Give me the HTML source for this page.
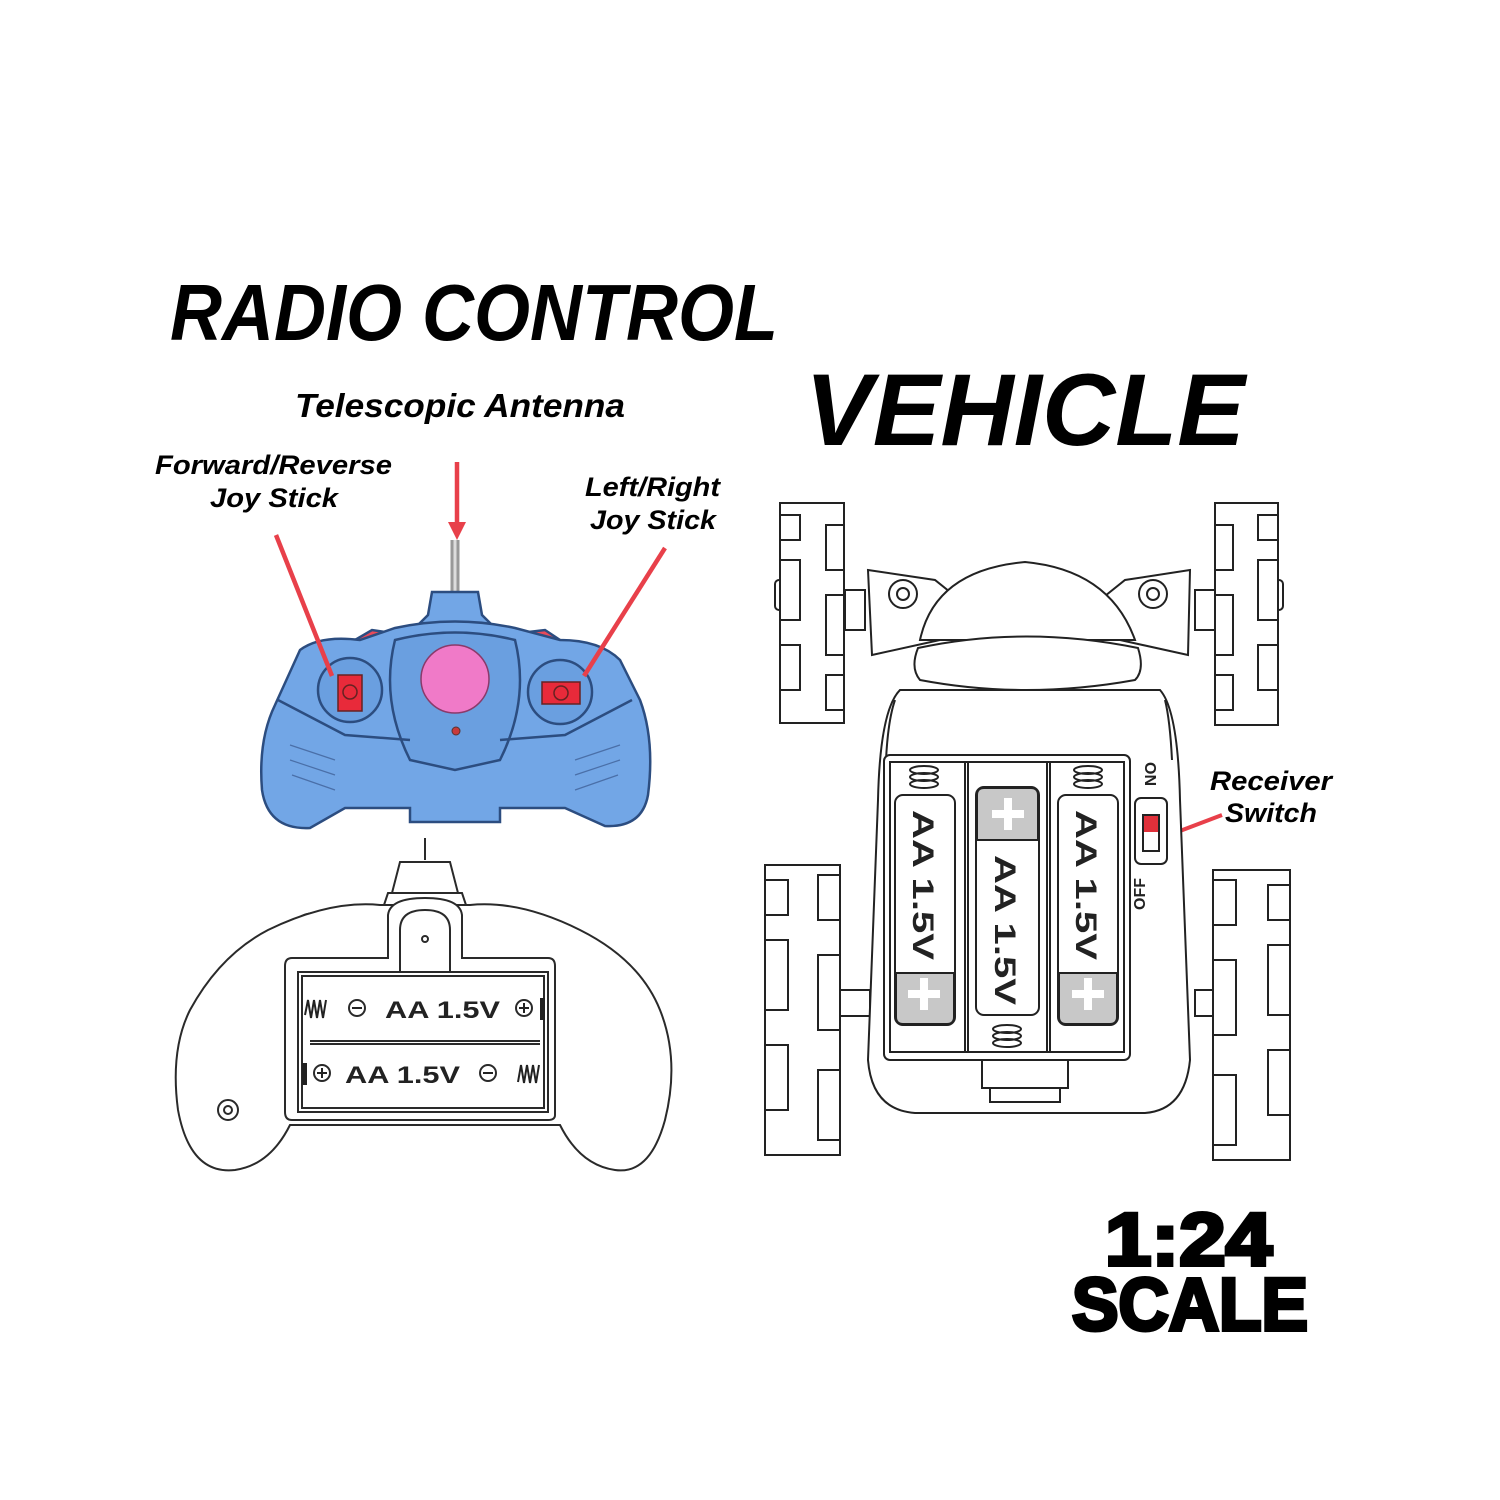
<!DOCTYPE html>
<html><head><meta charset="utf-8"><style>
html,body{margin:0;padding:0;background:#fff;}
svg{display:block}
text{font-family:"Liberation Sans",sans-serif;}
</style></head><body>
<svg width="1500" height="1500" viewBox="0 0 1500 1500" xmlns="http://www.w3.org/2000/svg">
<rect width="1500" height="1500" fill="#fff"/>
<text x="170" y="340" font-size="80" font-weight="bold" font-style="italic" textLength="608" lengthAdjust="spacingAndGlyphs" fill="#000">RADIO CONTROL</text>
<text x="805" y="445" font-size="102" font-weight="bold" font-style="italic" textLength="440" lengthAdjust="spacingAndGlyphs" fill="#000">VEHICLE</text>
<text x="295" y="417" font-size="33" font-weight="bold" font-style="italic" textLength="330" lengthAdjust="spacingAndGlyphs">Telescopic Antenna</text>
<text x="155" y="474" font-size="27" font-weight="bold" font-style="italic" textLength="237" lengthAdjust="spacingAndGlyphs">Forward/Reverse</text>
<text x="210" y="507" font-size="27" font-weight="bold" font-style="italic" textLength="128" lengthAdjust="spacingAndGlyphs">Joy Stick</text>
<text x="585" y="496" font-size="27" font-weight="bold" font-style="italic" textLength="135" lengthAdjust="spacingAndGlyphs">Left/Right</text>
<text x="590" y="529" font-size="27" font-weight="bold" font-style="italic" textLength="126" lengthAdjust="spacingAndGlyphs">Joy Stick</text>
<text x="1210" y="790" font-size="27" font-weight="bold" font-style="italic" textLength="122" lengthAdjust="spacingAndGlyphs">Receiver</text>
<text x="1225" y="822" font-size="27" font-weight="bold" font-style="italic" textLength="92" lengthAdjust="spacingAndGlyphs">Switch</text>
<text x="1105" y="1265" font-size="74" font-weight="bold" stroke="#000" stroke-width="4" textLength="167" lengthAdjust="spacingAndGlyphs">1:24</text>
<text x="1072" y="1330" font-size="74" font-weight="bold" stroke="#000" stroke-width="4" textLength="236" lengthAdjust="spacingAndGlyphs">SCALE</text>

<line x1="455" y1="540" x2="455" y2="595" stroke="#999" stroke-width="9"/>
<line x1="455" y1="540" x2="455" y2="595" stroke="#ddd" stroke-width="3"/>
<g stroke="#2c4d80" stroke-width="2.5" fill="#72a6e6">
<path d="M355 640 L372 630 L392 633 L385 648Z M520 633 L545 630 L560 640 L530 648Z" fill="#e84a5a"/>
<path d="M432 592 L478 592 L482 615 L492 625 L418 625 L428 615Z"/>
<path d="M300 650 Q320 635 360 640 L395 628 Q455 615 515 628 L560 640 Q600 640 620 660 L640 700 Q655 740 648 795 Q642 828 605 826 L565 808 L500 808 L500 822 L410 822 L410 808 L345 808 L310 828 Q268 830 262 790 Q258 740 275 705 Z"/>
<path d="M395 640 Q455 625 515 640 Q530 700 500 760 L455 770 L410 760 Q380 700 395 640Z" fill="#6a9fe0"/>
<circle cx="350" cy="690" r="32" fill="#6a9fe0"/>
<circle cx="560" cy="692" r="32" fill="#6a9fe0"/>
<path d="M278 700 L345 735 L410 740 M632 700 L565 735 L500 740" fill="none"/>
</g>
<circle cx="455" cy="679" r="34" fill="#f07ac8" stroke="#8a3a6a" stroke-width="1.5"/>
<circle cx="456" cy="731" r="4" fill="#c83a3a" stroke="#533" stroke-width="1"/>
<rect x="338" y="675" width="24" height="36" fill="#e82a3a" stroke="#622" stroke-width="1.5"/>
<rect x="542" y="682" width="38" height="22" fill="#e82a3a" stroke="#622" stroke-width="1.5"/>
<circle cx="350" cy="692" r="7" fill="none" stroke="#622" stroke-width="1.5"/>
<circle cx="561" cy="693" r="7" fill="none" stroke="#622" stroke-width="1.5"/>
<g stroke="#4a6fa8" stroke-width="1.2">
<line x1="290" y1="745" x2="335" y2="760"/><line x1="290" y1="760" x2="335" y2="775"/><line x1="292" y1="775" x2="335" y2="790"/>
<line x1="620" y1="745" x2="575" y2="760"/><line x1="620" y1="760" x2="575" y2="775"/><line x1="618" y1="775" x2="575" y2="790"/>
</g>
<g stroke="#e8404a" stroke-width="4.5" fill="#e8404a">
<line x1="276" y1="535" x2="332" y2="676"/>
<line x1="665" y1="548" x2="584" y2="676"/>
<line x1="457" y1="462" x2="457" y2="525"/>
<path d="M448 522 L466 522 L457 540Z" stroke="none"/>
<line x1="1172" y1="834" x2="1222" y2="815" stroke-width="4"/>
</g>

<g stroke="#2a2a2a" stroke-width="2" fill="#fff">
<line x1="425" y1="838" x2="425" y2="860"/>
<path d="M400 862 L450 862 L458 893 L392 893Z"/>
<path d="M388 893 L462 893 L466 905 L384 905Z"/>
<path d="M292 925 Q300 910 330 913 L345 918 M505 918 Q540 908 555 925"/>
<path d="M268 930 Q330 900 380 905 L470 905 Q520 900 580 930 Q640 960 660 1010 Q680 1060 665 1120 Q650 1175 615 1170 Q580 1165 560 1125 L290 1125 Q270 1165 235 1170 Q190 1175 178 1110 Q170 1050 190 1010 Q220 955 268 930Z"/>
<path d="M388 958 L388 915 Q390 898 425 898 Q460 898 462 915 L462 958 L548 958 Q555 958 555 966 L555 1115 Q555 1120 548 1120 L292 1120 Q285 1120 285 1112 L285 966 Q285 958 292 958Z"/>
<path d="M400 975 L400 930 Q400 910 425 910 Q450 910 450 930 L450 975"/>
<rect x="298" y="972" width="250" height="140"/>
<rect x="302" y="976" width="242" height="132"/>
<line x1="310" y1="1041" x2="540" y2="1041"/>
<line x1="310" y1="1044" x2="540" y2="1044"/>
<circle cx="425" cy="939" r="3"/>
<circle cx="228" cy="1110" r="10"/><circle cx="228" cy="1110" r="4"/>
<circle cx="357" cy="1008" r="8"/><circle cx="524" cy="1008" r="8"/>
<circle cx="322" cy="1073" r="8"/><circle cx="488" cy="1073" r="8"/>
</g>
<g stroke="#222" stroke-width="2">
<line x1="352" y1="1008" x2="362" y2="1008"/><line x1="519" y1="1008" x2="529" y2="1008"/><line x1="524" y1="1003" x2="524" y2="1013"/>
<line x1="317" y1="1073" x2="327" y2="1073"/><line x1="322" y1="1068" x2="322" y2="1078"/><line x1="483" y1="1073" x2="493" y2="1073"/>
<path d="M305 1015 L308 1000 L311 1018 L314 1000 L317 1018 L320 1000 L323 1018 L326 1000" fill="none"/>
<path d="M518 1082 L521 1065 L524 1083 L527 1065 L530 1083 L533 1065 L536 1083 L539 1065" fill="none"/>
</g>
<rect x="540" y="998" width="5" height="22" fill="#222"/>
<rect x="302" y="1063" width="5" height="22" fill="#222"/>
<text x="385" y="1018" font-size="24" font-weight="bold" fill="#222" textLength="115" lengthAdjust="spacingAndGlyphs">AA 1.5V</text>
<text x="345" y="1083" font-size="24" font-weight="bold" fill="#222" textLength="115" lengthAdjust="spacingAndGlyphs">AA 1.5V</text>

<g stroke="#222" stroke-width="2" fill="#fff">
<rect x="845" y="590" width="20" height="40"/><rect x="1195" y="590" width="22" height="40"/>
<rect x="840" y="990" width="30" height="26"/><rect x="1195" y="990" width="22" height="26"/>
<rect x="775" y="580" width="8" height="30" rx="4"/><rect x="1275" y="580" width="8" height="30" rx="4"/>
<path d="M868 570 L935 580 L960 600 L940 640 L872 655Z"/>
<path d="M1190 570 L1125 580 L1100 600 L1120 640 L1188 655Z"/>
<path d="M920 640 Q935 570 1025 562 Q1110 570 1135 640Z"/>
<path d="M900 690 Q880 710 878 800 L868 1060 Q872 1110 915 1113 L1145 1113 Q1185 1110 1190 1060 L1180 800 Q1178 710 1160 690 Z"/>
<path d="M918 648 Q1025 625 1138 648 Q1145 670 1135 680 Q1025 700 920 680 Q910 668 918 648Z"/>
<path d="M895 700 Q888 720 886 760 M1165 700 Q1170 720 1172 760" fill="none"/>
<circle cx="903" cy="594" r="14"/><circle cx="903" cy="594" r="6"/>
<circle cx="1153" cy="594" r="14"/><circle cx="1153" cy="594" r="6"/>
<rect x="982" y="1058" width="86" height="30"/><rect x="990" y="1088" width="70" height="14"/>
<rect x="884" y="755" width="246" height="305" rx="6"/>
<rect x="890" y="762" width="234" height="290"/>
<line x1="965" y1="762" x2="965" y2="1052"/><line x1="968" y1="762" x2="968" y2="1052"/>
<line x1="1047" y1="762" x2="1047" y2="1052"/><line x1="1050" y1="762" x2="1050" y2="1052"/>
<rect x="1135" y="798" width="32" height="66" rx="6"/>
<rect x="1143" y="815" width="16" height="36"/>
</g>
<rect x="1144" y="816" width="14" height="16" fill="#e0303a"/>
<text transform="translate(1145,762) rotate(90)" font-size="16" font-weight="bold" fill="#222">ON</text>
<text transform="translate(1145,910) rotate(-90)" font-size="16" font-weight="bold" fill="#222">OFF</text>
<g fill="none" stroke="#222" stroke-width="2">
<ellipse cx="924" cy="770" rx="14" ry="4"/><ellipse cx="924" cy="777" rx="14" ry="4"/><ellipse cx="924" cy="784" rx="14" ry="4"/>
<ellipse cx="1088" cy="770" rx="14" ry="4"/><ellipse cx="1088" cy="777" rx="14" ry="4"/><ellipse cx="1088" cy="784" rx="14" ry="4"/>
<ellipse cx="1007" cy="1029" rx="14" ry="4"/><ellipse cx="1007" cy="1036" rx="14" ry="4"/><ellipse cx="1007" cy="1043" rx="14" ry="4"/>
</g>
<g stroke="#222" stroke-width="2">
<rect x="895" y="795" width="60" height="230" rx="8" fill="#fff"/>
<path d="M896 973 L954 973 L954 1017 Q954 1024 947 1024 L903 1024 Q896 1024 896 1017Z" fill="#c8c8c8"/>
<rect x="976" y="787" width="63" height="228" rx="8" fill="#fff"/>
<path d="M977 840 L1038 840 L1038 795 Q1038 788 1031 788 L984 788 Q977 788 977 795Z" fill="#c8c8c8"/>
<rect x="1058" y="795" width="60" height="230" rx="8" fill="#fff"/>
<path d="M1059 973 L1117 973 L1117 1017 Q1117 1024 1110 1024 L1066 1024 Q1059 1024 1059 1017Z" fill="#c8c8c8"/>
</g>
<g fill="#fff">
<rect x="920" y="978" width="8" height="32"/><rect x="908" y="990" width="32" height="8"/>
<rect x="1004" y="798" width="8" height="32"/><rect x="992" y="810" width="32" height="8"/>
<rect x="1084" y="978" width="8" height="32"/><rect x="1072" y="990" width="32" height="8"/>
</g>
<text transform="translate(913,810) rotate(90)" font-size="30" font-weight="bold" fill="#222" textLength="150" lengthAdjust="spacingAndGlyphs">AA 1.5V</text>
<text transform="translate(995,855) rotate(90)" font-size="30" font-weight="bold" fill="#222" textLength="150" lengthAdjust="spacingAndGlyphs">AA 1.5V</text>
<text transform="translate(1076,810) rotate(90)" font-size="30" font-weight="bold" fill="#222" textLength="150" lengthAdjust="spacingAndGlyphs">AA 1.5V</text>

<g stroke="#222" stroke-width="2" fill="#fff">
<rect x="780" y="503" width="64" height="220"/>
<rect x="1215" y="503" width="63" height="222"/>
<rect x="765" y="865" width="75" height="290"/>
<rect x="1213" y="870" width="77" height="290"/>
</g>
<g stroke="#222" stroke-width="2" fill="none">
<path d="M780 515 L800 515 L800 540 L780 540 M844 525 L826 525 L826 570 L844 570 M780 560 L800 560 L800 620 L780 620 M844 595 L826 595 L826 655 L844 655 M780 645 L800 645 L800 690 L780 690 M844 675 L826 675 L826 710 L844 710"/>
<path d="M1278 515 L1258 515 L1258 540 L1278 540 M1215 525 L1233 525 L1233 570 L1215 570 M1278 560 L1258 560 L1258 620 L1278 620 M1215 595 L1233 595 L1233 655 L1215 655 M1278 645 L1258 645 L1258 690 L1278 690 M1215 675 L1233 675 L1233 710 L1215 710"/>
<path d="M765 880 L788 880 L788 915 L765 915 M840 875 L818 875 L818 920 L840 920 M765 940 L788 940 L788 1010 L765 1010 M840 955 L818 955 L818 1030 L840 1030 M765 1045 L788 1045 L788 1110 L765 1110 M840 1070 L818 1070 L818 1140 L840 1140"/>
<path d="M1290 885 L1268 885 L1268 920 L1290 920 M1213 880 L1236 880 L1236 925 L1213 925 M1290 945 L1268 945 L1268 1015 L1290 1015 M1213 960 L1236 960 L1236 1035 L1213 1035 M1290 1050 L1268 1050 L1268 1115 L1290 1115 M1213 1075 L1236 1075 L1236 1145 L1213 1145"/>
</g>
</svg>
</body></html>
